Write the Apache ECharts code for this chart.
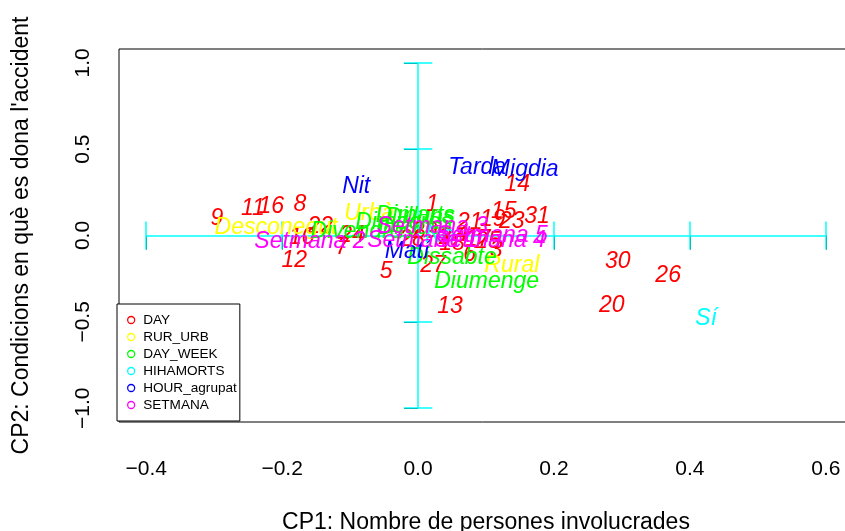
<!DOCTYPE html>
<html>
<head>
<meta charset="utf-8">
<script src="https://cdn.jsdelivr.net/npm/echarts@6/dist/echarts.min.js"></script>
<style>
  html, body { margin: 0; padding: 0; background: #fff; }
  #chart { width: 845px; height: 531px; }
</style>
</head>
<body>
<div id="chart"></div>
<script>
// Factor map of the categories on the first two principal components.

// DAY (day of the month)
const dayLabels = ['1','2','3','4','5','6','7','8','9','10','11','12','13','14','15','16',
                   '17','18','19','20','21','22','23','24','25','26','27','28','29','30','31'];
const dayX = [0.021, 0.040, 0.115, 0.065, -0.047, 0.076, -0.112, -0.174, -0.296, -0.171, -0.243,
              -0.182, 0.047, 0.146, 0.126, -0.216, 0.088, 0.050, 0.110, 0.285, 0.076, -0.144,
              0.138, -0.097, 0.103, 0.368, 0.022, -0.009, 0.010, 0.294, 0.175];
const dayY = [0.188, -0.003, -0.078, 0.014, -0.200, -0.101, -0.061, 0.188, 0.107, -0.003, 0.165,
              -0.136, -0.402, 0.304, 0.148, 0.177, -0.014, -0.038, 0.101, -0.396, 0.084, 0.061,
              0.090, 0.009, -0.026, -0.223, -0.165, -0.014, 0.032, -0.142, 0.119];

// RUR_URB
const rurLabels = ['Desconegut', 'Urbà', 'Rural'];
const rurX = [-0.209, -0.072, 0.138];
const rurY = [0.055, 0.136, -0.165];

// DAY_WEEK
const weekLabels = ['Dilluns', 'Dimarts', 'Dimecres', 'Dijous', 'Divendres', 'Dissabte', 'Diumenge'];
const weekX = [0.003, -0.004, -0.021, -0.012, -0.082, 0.050, 0.101];
const weekY = [0.113, 0.124, 0.084, 0.055, 0.032, -0.119, -0.258];

// HIHAMORTS
const mortsLabels = ['No', 'Sí'];
const mortsX = [0.032, 0.424];
const mortsY = [0.009, -0.472];

// HOUR_agrupat
const hourLabels = ['Matí', 'Migdia', 'Tarda', 'Nit'];
const hourX = [-0.016, 0.157, 0.087, -0.091];
const hourY = [-0.084, 0.391, 0.402, 0.292];

// SETMANA
const setLabels = ['Setmana 1', 'Setmana 2', 'Setmana 3', 'Setmana 4', 'Setmana 5'];
const setX = [0.007, -0.159, 0.021, 0.106, 0.109];
const setY = [-0.020, -0.026, 0.061, -0.020, 0.009];

// Axis ticks and the reference cross
const xTicks = [-0.4, -0.2, 0.0, 0.2, 0.4, 0.6];
const yTicks = [-1.0, -0.5, 0.0, 0.5, 1.0];

const FONT = '"Liberation Sans", Arial, Helvetica, sans-serif';

const groups = [
  { name: 'DAY',          color: '#FF0000', labels: dayLabels,   xs: dayX,   ys: dayY },
  { name: 'RUR_URB',      color: '#FFFF00', labels: rurLabels,   xs: rurX,   ys: rurY },
  { name: 'DAY_WEEK',     color: '#00FF00', labels: weekLabels,  xs: weekX,  ys: weekY },
  { name: 'HIHAMORTS',    color: '#00FFFF', labels: mortsLabels, xs: mortsX, ys: mortsY },
  { name: 'HOUR_agrupat', color: '#0000FF', labels: hourLabels,  xs: hourX,  ys: hourY },
  { name: 'SETMANA',      color: '#FF00FF', labels: setLabels,   xs: setX,   ys: setY }
];

// Cyan cross: horizontal and vertical segments with small bars at each tick
const crossColor = '#00FFFF';
const barHalfY = 0.081;   // half height of bars on the horizontal segment
const barHalfX = 0.021;   // half width of bars on the vertical segment
const crossSegments = [];
crossSegments.push({ coords: [[xTicks[0], 0], [xTicks[xTicks.length - 1], 0]] });
crossSegments.push({ coords: [[0, yTicks[0]], [0, yTicks[yTicks.length - 1]]] });
xTicks.forEach(function (t) { crossSegments.push({ coords: [[t, -barHalfY], [t, barHalfY]] }); });
yTicks.forEach(function (t) { crossSegments.push({ coords: [[-barHalfX, t], [barHalfX, t]] }); });

function fmt(v) {
  return v.toFixed(1).replace('-', '\u2212');
}

const series = [{
  type: 'lines',
  coordinateSystem: 'cartesian2d',
  silent: true,
  z: 1,
  lineStyle: { color: crossColor, width: 1.5, opacity: 1 },
  data: crossSegments
}];

groups.forEach(function (g) {
  series.push({
    name: g.name,
    type: 'scatter',
    silent: true,
    z: 2,
    symbol: 'circle',
    symbolSize: 1,
    itemStyle: { color: g.color, opacity: 0 },
    label: {
      show: true,
      position: 'inside',
      offset: [0, 2],
      formatter: '{b}',
      color: g.color,
      fontSize: 23,
      fontStyle: 'italic',
      fontFamily: FONT,
      opacity: 1
    },
    emphasis: { disabled: true },
    data: g.labels.map(function (l, i) {
      return { name: l, value: [g.xs[i], g.ys[i]] };
    })
  });
});

const chart = echarts.init(document.getElementById('chart'), null, { renderer: 'canvas' });
chart.setOption({
  animation: false,
  backgroundColor: '#fff',
  grid: {
    // plot box runs a little past the right edge of the page
    left: 119, top: 49, width: 734, height: 373,
    outerBoundsMode: 'none',
    containLabel: false,
    show: true, borderColor: '#000', borderWidth: 1, backgroundColor: 'transparent'
  },
  xAxis: {
    type: 'value',
    min: -0.44, max: 0.64,
    splitLine: { show: false },
    axisLine: { show: false },
    axisTick: { show: true, customValues: xTicks, length: 14, lineStyle: { color: '#000', width: 1 } },
    axisLabel: { customValues: xTicks, formatter: fmt, fontSize: 21, fontFamily: FONT, color: '#000', margin: 37 },
    name: 'CP1: Nombre de persones involucrades',
    nameLocation: 'middle',
    nameGap: 89,
    nameTextStyle: { fontSize: 23, fontFamily: FONT, color: '#000' }
  },
  yAxis: {
    type: 'value',
    min: -1.08, max: 1.08,
    splitLine: { show: false },
    axisLine: { show: false },
    axisTick: { show: true, customValues: yTicks, length: 14, lineStyle: { color: '#000', width: 1 } },
    axisLabel: { customValues: yTicks, formatter: fmt, fontSize: 21, fontFamily: FONT, color: '#000', rotate: 90, margin: 25 },
    name: 'CP2: Condicions en què es dona l\'accident',
    nameLocation: 'middle',
    nameRotate: 90,
    nameGap: 86,
    nameTextStyle: { fontSize: 23, fontFamily: FONT, color: '#000' }
  },
  legend: {
    orient: 'vertical',
    left: 117, top: 304,
    backgroundColor: '#fff',
    borderColor: '#000', borderWidth: 1, borderRadius: 0,
    padding: [9, 3, 9, 10],
    itemGap: 3,
    itemWidth: 14, itemHeight: 7,
    icon: 'circle',
    selectedMode: false,
    textStyle: { fontSize: 13.6, fontFamily: FONT, color: '#000' },
    data: groups.map(function (g) {
      return { name: g.name, itemStyle: { color: 'rgba(0,0,0,0)', borderColor: g.color, borderWidth: 1.3, opacity: 1 } };
    })
  },
  series: series
});
</script>
</body>
</html>
